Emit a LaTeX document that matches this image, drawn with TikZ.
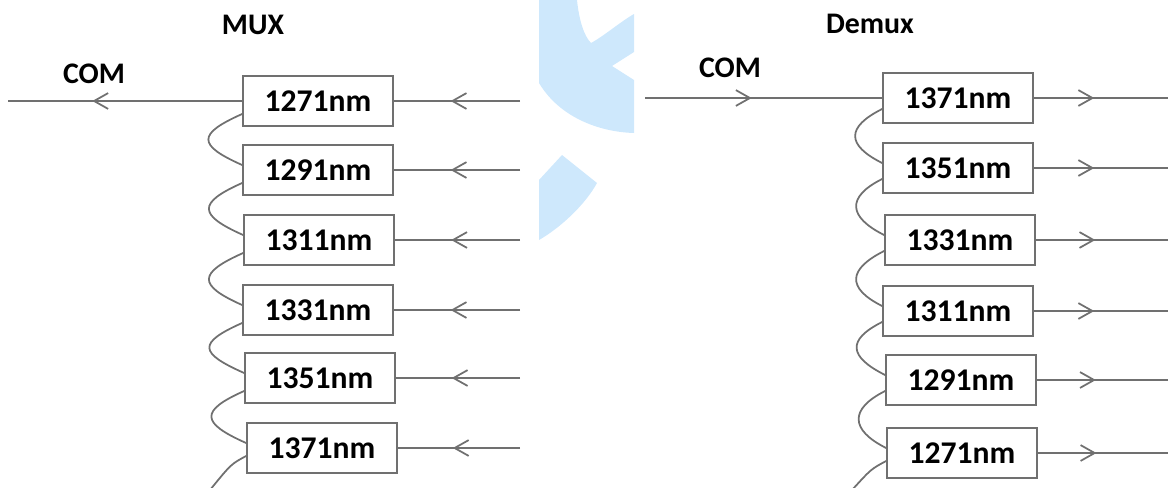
\documentclass[tikz,border=0pt]{standalone}
\usepackage{fontspec}
\setmainfont{Carlito}
\usetikzlibrary{arrows.meta,decorations.markings}

\definecolor{wiregray}{RGB}{112,112,112}
\definecolor{markblue}{RGB}{206,232,252}

\tikzset{
  filter/.style={rectangle, draw=wiregray, line width=1pt, minimum width=3cm, minimum height=1cm, inner sep=0pt, font=\fontsize{18}{20}\selectfont\bfseries},
  fiber/.style={draw=wiregray, line width=1pt},
  midarrow/.style={fiber, postaction={decorate}, decoration={markings, mark=at position #1 with {\arrow{Straight Barb[length=8pt,width=9pt,color=wiregray]}}}},
  heading/.style={font=\fontsize{17}{19}\selectfont\bfseries}
}

\begin{document}
\begin{tikzpicture}[x=0.02cm, y=0.02cm]
	\useasboundingbox (0,0) rectangle (1168,-487);

	%watermark in the back
	\fill[markblue] (539,0) -- (577,0) .. controls (579,-20) and (584,-36) .. (591,-43) .. controls (604,-36) and (620,-22) .. (634,-14) -- (634,-52) -- (612,-66) -- (634,-80) -- (634,-133) .. controls (600,-132) and (560,-118) .. (539,-83) -- cycle;
	\fill[markblue] (539,-180) -- (562,-155) -- (597,-183) .. controls (585,-205) and (560,-228) .. (539,-240) -- cycle;

	%MUX side
	\draw (253,-25) node[heading] (muxtitle) {MUX};
	\draw (94,-74) node[heading] (muxcom) {COM};

	\draw (318,-101) node[filter] (m1) {1271nm};
	\draw (318,-170) node[filter] (m2) {1291nm};
	\draw (319,-240) node[filter] (m3) {1311nm};
	\draw (318,-310) node[filter] (m4) {1331nm};
	\draw (320,-378) node[filter] (m5) {1351nm};
	\draw (322,-448) node[filter] (m6) {1371nm};

	\coordinate (mcomend) at (8,-101);
	\coordinate (mIn1) at (520,-101);
	\coordinate (mIn2) at (520,-170);
	\coordinate (mIn3) at (520,-240);
	\coordinate (mIn4) at (520,-310);
	\coordinate (mIn5) at (520,-378);
	\coordinate (mIn6) at (520,-448);
	\coordinate (mtail) at (210,-490);

	\draw[midarrow=0.64] (m1.west) -- (mcomend);

	\draw[midarrow=0.55] (mIn1) -- (m1);
	\draw[midarrow=0.55] (mIn2) -- (m2);
	\draw[midarrow=0.55] (mIn3) -- (m3);
	\draw[midarrow=0.55] (mIn4) -- (m4);
	\draw[midarrow=0.55] (mIn5) -- (m5);
	\draw[midarrow=0.55] (mIn6) -- (m6);

	%fiber loops between the filters
	\draw[fiber] ([yshift=-0.26cm]m1.west) .. controls +(-45,-20) and +(-45,20) .. ([yshift=0.1cm]m2.west);
	\draw[fiber] ([yshift=-0.26cm]m2.west) .. controls +(-45,-20) and +(-45,20) .. ([yshift=0.1cm]m3.west);
	\draw[fiber] ([yshift=-0.26cm]m3.west) .. controls +(-45,-20) and +(-45,20) .. ([yshift=0.1cm]m4.west);
	\draw[fiber] ([yshift=-0.26cm]m4.west) .. controls +(-45,-20) and +(-45,20) .. ([yshift=0.1cm]m5.west);
	\draw[fiber] ([yshift=-0.26cm]m5.west) .. controls +(-45,-20) and +(-45,20) .. ([yshift=0.1cm]m6.west);
	\draw[fiber] ([yshift=-0.16cm]m6.west) .. controls +(-15,-8) .. (mtail);

	%Demux side
	\draw (870,-24) node[heading] (demuxtitle) {Demux};
	\draw (730,-68) node[heading] (demuxcom) {COM};

	\draw (958,-98) node[filter] (d1) {1371nm};
	\draw (958,-168) node[filter] (d2) {1351nm};
	\draw (960,-240) node[filter] (d3) {1331nm};
	\draw (958,-311) node[filter] (d4) {1311nm};
	\draw (961,-380) node[filter] (d5) {1291nm};
	\draw (962,-453) node[filter] (d6) {1271nm};

	\coordinate (dcomstart) at (645,-98);
	\coordinate (dOut1) at (1168,-98);
	\coordinate (dOut2) at (1168,-168);
	\coordinate (dOut3) at (1168,-240);
	\coordinate (dOut4) at (1168,-311);
	\coordinate (dOut5) at (1168,-380);
	\coordinate (dOut6) at (1168,-453);
	\coordinate (dtail) at (852,-490);

	\draw[midarrow=0.45] (dcomstart) -- (d1.west);

	\draw[midarrow=0.45] (d1) -- (dOut1);
	\draw[midarrow=0.45] (d2) -- (dOut2);
	\draw[midarrow=0.45] (d3) -- (dOut3);
	\draw[midarrow=0.45] (d4) -- (dOut4);
	\draw[midarrow=0.45] (d5) -- (dOut5);
	\draw[midarrow=0.45] (d6) -- (dOut6);

	%fiber loops between the filters
	\draw[fiber] ([yshift=-0.22cm]d1.west) .. controls +(-36,-18) and +(-36,18) .. ([yshift=0.1cm]d2.west);
	\draw[fiber] ([yshift=-0.22cm]d2.west) .. controls +(-36,-18) and +(-36,18) .. ([yshift=0.1cm]d3.west);
	\draw[fiber] ([yshift=-0.22cm]d3.west) .. controls +(-36,-18) and +(-36,18) .. ([yshift=0.1cm]d4.west);
	\draw[fiber] ([yshift=-0.22cm]d4.west) .. controls +(-36,-18) and +(-36,18) .. ([yshift=0.1cm]d5.west);
	\draw[fiber] ([yshift=-0.22cm]d5.west) .. controls +(-36,-18) and +(-36,18) .. ([yshift=0.1cm]d6.west);
	\draw[fiber] ([yshift=-0.16cm]d6.west) .. controls +(-15,-8) .. (dtail);

\end{tikzpicture}
\end{document}
